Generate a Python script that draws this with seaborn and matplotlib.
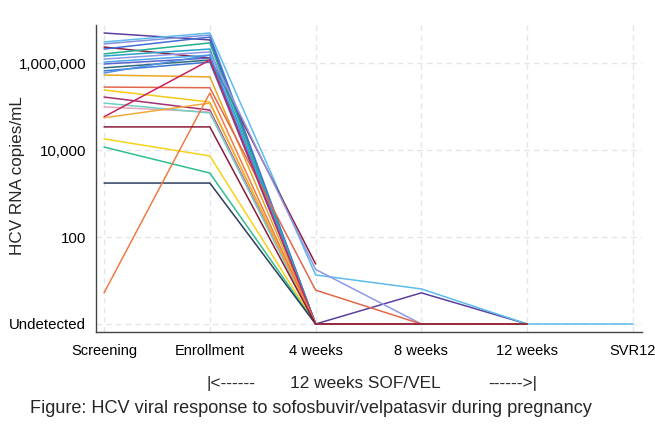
import numpy as np
import pandas as pd
import matplotlib
matplotlib.use("Agg")
import matplotlib.pyplot as plt
import seaborn as sns

# Visit labels along the x axis
visits = ["Screening", "Enrollment", "4 weeks", "8 weeks", "12 weeks", "SVR12"]

# HCV RNA (copies/mL) per participant at each visit; 1 = undetected, nan = no sample
nan = np.nan
p01 = [4900000, 3400000, 1, 5.2, 1, nan]
p02 = [3050000, 4900000, 13.4, 6.4, 1, 1]
p03 = [2750000, 4400000, 1, 1, 1, nan]
p04 = [2330000, 1300000, 24, nan, nan, nan]
p05 = [2100000, 3950000, 1, 1, 1, nan]
p06 = [1620000, 2900000, 1, 1, 1, nan]
p07 = [1450000, 2100000, 1, 1, 1, nan]
p08 = [1230000, 1800000, 18, 1, 1, nan]
p09 = [1050000, 1520000, 1, 1, 1, nan]
p10 = [950000, 1300000, 1, 1, 1, nan]
p11 = [775000, 1170000, 1, 1, 1, nan]
p12 = [660000, 1050000, 1, 1, 1, nan]
p13 = [590000, 1520000, 1, 1, 1, nan]
p14 = [530000, 480000, 1, 1, 1, nan]
p15 = [280000, 270000, 6.0, 1, 1, nan]
p16 = [240000, 127000, 1, 1, 1, nan]
p17 = [165000, 83000, 1, 1, 1, nan]
p18 = [98000, 75000, 1, 1, 1, nan]
p19 = [120000, 71000, 1, 1, 1, nan]
p20 = [58000, 1170000, 1, 1, 1, nan]
p21 = [55000, 120000, 1, 1, 1, nan]
p22 = [18000, 7300, 1, 1, 1, nan]
p23 = [11700, 2950, 1, 1, 1, nan]
p24 = [1740, 1740, 1, 1, 1, nan]
p25 = [5.2, 205000, 1, 1, 1, nan]
p26 = [34000, 34000, 1, 1, 1, nan]

participants = [p01, p02, p03, p04, p05, p06, p07, p08, p09, p10, p11, p12, p13,
                p14, p15, p16, p17, p18, p19, p20, p21, p22, p23, p24, p25, p26]

line_colors = ["#5b3f9e", "#5cbcec", "#7f93e0", "#8e1b3c", "#3f6fd8", "#22b08c",
               "#2aa3c8", "#8f98e6", "#4aa6e8", "#5a62c9", "#2f6b78", "#3a78d0",
               "#4f8fe6", "#e9a51c", "#e2674a", "#f6c915", "#a3306f", "#e7a6bd",
               "#6fd0c4", "#c9235f", "#f2a93a", "#f7d21a", "#2fbf8f", "#2e3f5e",
               "#f07a45", "#8b1a3a"]

rows = []
for pid, vals in enumerate(participants):
    for vi, v in enumerate(vals):
        if not np.isnan(v):
            rows.append({"pid": pid, "visit": vi, "rna": v})
df = pd.DataFrame(rows)

sns.set_style("white")
plt.rcParams["font.family"] = ["Liberation Sans", "DejaVu Sans"]

fig = plt.figure(figsize=(6.55, 4.24), dpi=100)
ax = fig.add_axes([0.1466, 0.217, 0.8334, 0.724])

# dashed reference grid
for yv in [1, 1e2, 1e4, 1e6]:
    ax.axhline(yv, color="#e2e6ea", lw=1.0, ls=(0, (4, 3)), zorder=0)
for xv in range(len(visits)):
    ax.axvline(xv, color="#e2e6ea", lw=1.0, ls=(0, (4, 3)), zorder=0)

sns.lineplot(data=df, x="visit", y="rna", hue="pid", palette=line_colors,
             estimator=None, legend=False, lw=1.1, ax=ax)

ax.set_yscale("log")
ax.set_ylim(0.655, 7.48e6)
ax.set_xlim(-0.076, 5.085)
ax.set_yticks([1, 1e2, 1e4, 1e6])
ax.set_yticklabels(["Undetected", "100", "10,000", "1,000,000"], fontsize=10.8)
ax.minorticks_off()
ax.set_xticks(range(len(visits)))
ax.set_xticklabels(visits, fontsize=10.5)
ax.set_xlabel("")
ax.set_ylabel("HCV RNA copies/mL", fontsize=12.3, va="center")
ax.yaxis.set_label_coords(-0.143, 0.51)

for side in ["top", "right"]:
    ax.spines[side].set_visible(False)
for side in ["left", "bottom"]:
    ax.spines[side].set_color("#444444")
    ax.spines[side].set_linewidth(1.0)
ax.tick_params(axis="y", direction="out", length=5, width=1.0,
               color="#444444", labelcolor="black", pad=2)
ax.tick_params(axis="x", direction="out", length=5, width=1.0,
               color="#444444", labelcolor="black", pad=4)

fig.text(0.316, 0.096, "|<------", fontsize=12.4, ha="left", va="center")
fig.text(0.557, 0.096, "12 weeks SOF/VEL", fontsize=12.4, ha="center", va="center")
fig.text(0.820, 0.096, "------>|", fontsize=12.4, ha="right", va="center")
fig.text(0.046, 0.036, "Figure: HCV viral response to sofosbuvir/velpatasvir during pregnancy",
         fontsize=13.1, ha="left", va="center")

fig.savefig("out.png", dpi=100)
